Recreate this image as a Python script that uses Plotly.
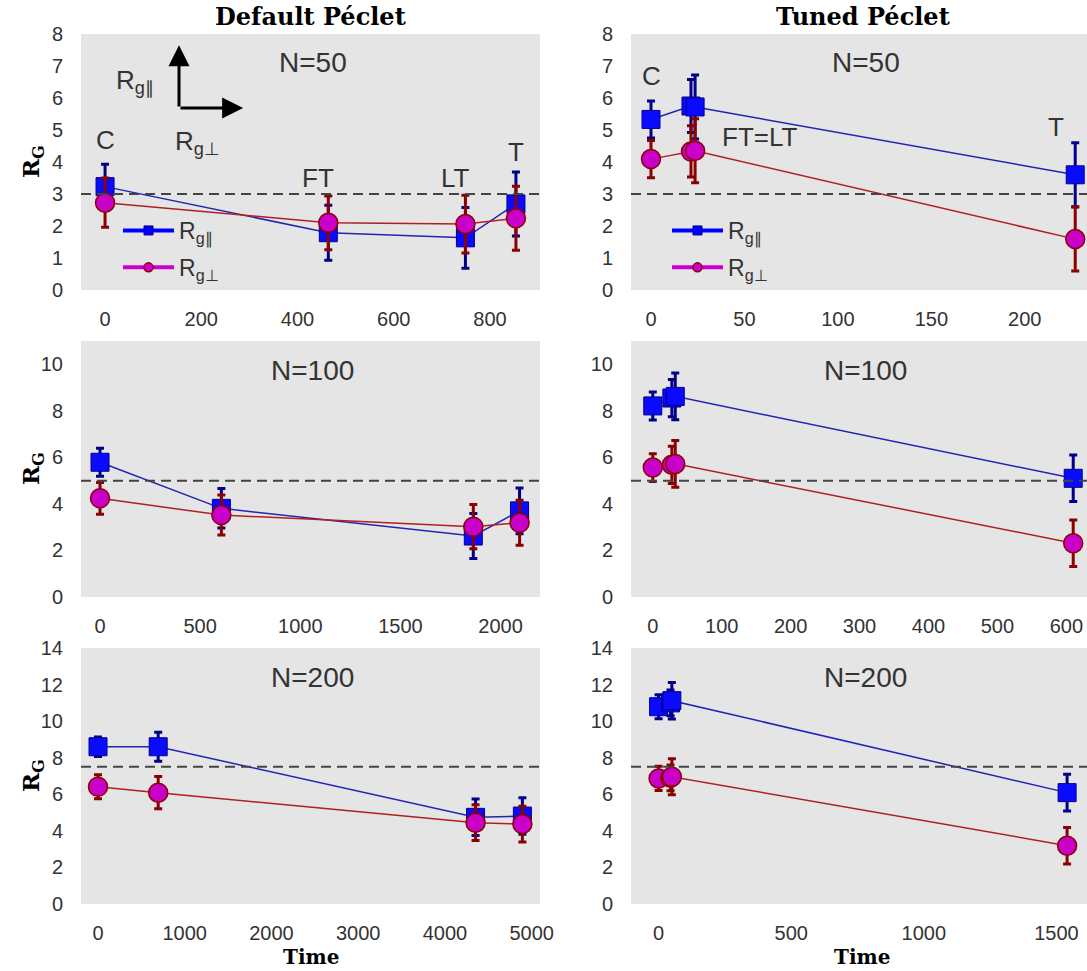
import plotly.graph_objects as go

# ---------------- data ----------------
# Default Péclet
t_def50 = [0, 464, 749, 854]
par_def50 = [3.23, 1.79, 1.63, 2.69]
par_def50_err = [0.70, 0.86, 0.95, 1.00]
perp_def50 = [2.73, 2.10, 2.06, 2.24]
perp_def50_err = [0.77, 0.84, 0.90, 1.00]

t_def100 = [0, 606, 1864, 2095]
par_def100 = [5.79, 3.81, 2.62, 3.70]
par_def100_err = [0.60, 0.85, 0.97, 0.98]
perp_def100 = [4.24, 3.52, 3.02, 3.19]
perp_def100_err = [0.68, 0.86, 0.95, 0.97]

t_def200 = [0, 694, 4353, 4893]
par_def200 = [8.60, 8.60, 4.74, 4.81]
par_def200_err = [0.53, 0.79, 1.00, 1.00]
perp_def200 = [6.41, 6.09, 4.45, 4.37]
perp_def200_err = [0.66, 0.88, 0.98, 0.98]

# Tuned Péclet
t_tun50 = [0, 21.4, 23.6, 227]
par_tun50 = [5.33, 5.75, 5.72, 3.60]
par_tun50_err = [0.58, 0.83, 1.00, 1.00]
perp_tun50 = [4.09, 4.33, 4.35, 1.59]
perp_tun50_err = [0.58, 0.80, 1.00, 1.00]

t_tun100 = [0, 27.7, 32.6, 610]
par_tun100 = [8.21, 8.55, 8.62, 5.10]
par_tun100_err = [0.60, 0.80, 1.00, 1.00]
perp_tun100 = [5.56, 5.68, 5.72, 2.31]
perp_tun100_err = [0.60, 0.80, 1.00, 1.00]

t_tun200 = [0, 45, 50, 1540]
par_tun200 = [10.79, 11.00, 11.12, 6.09]
par_tun200_err = [0.66, 0.70, 1.00, 1.00]
perp_tun200 = [6.87, 6.90, 6.96, 3.19]
perp_tun200_err = [0.66, 0.70, 0.98, 1.00]

chain_lengths = ["N=50", "N=100", "N=200"]
reference_rg = [3.0, 5.0, 7.5]

x_ranges = [[-50, 904], [-10.7, 233.3], [-95, 2197], [-31.6, 630], [-196, 5096], [-104, 1615]]
y_ranges = [[0, 8], [0, 8], [0, 11], [0, 11], [0, 14], [0, 14]]
x_ticks = [[0, 200, 400, 600, 800], [0, 50, 100, 150, 200],
           [0, 500, 1000, 1500, 2000], [0, 100, 200, 300, 400, 500, 600],
           [0, 1000, 2000, 3000, 4000, 5000], [0, 500, 1000, 1500]]
y_ticks = [list(range(0, 9)), list(range(0, 9)),
           [0, 2, 4, 6, 8, 10], [0, 2, 4, 6, 8, 10],
           [0, 2, 4, 6, 8, 10, 12, 14], [0, 2, 4, 6, 8, 10, 12, 14]]

panels = [
    (t_def50, par_def50, par_def50_err, perp_def50, perp_def50_err),
    (t_tun50, par_tun50, par_tun50_err, perp_tun50, perp_tun50_err),
    (t_def100, par_def100, par_def100_err, perp_def100, perp_def100_err),
    (t_tun100, par_tun100, par_tun100_err, perp_tun100, perp_tun100_err),
    (t_def200, par_def200, par_def200_err, perp_def200, perp_def200_err),
    (t_tun200, par_tun200, par_tun200_err, perp_tun200, perp_tun200_err),
]

# ---------------- layout geometry (pixels) ----------------
W, H = 1087, 971
col_px = [(81, 540), (631, 1087)]
row_px = [(34, 290), (341, 597), (648, 904)]

BLUE_LINE = "#2323b4"
BLUE_FILL = "#0a0aff"
BLUE_EDGE = "#00008b"
RED_LINE = "#b02020"
RED_FILL = "#c800c8"
RED_EDGE = "#8b0000"
TXT = "#333333"
SANS = "Liberation Sans, Arial, sans-serif"
SERIF = "DejaVu Serif, serif"

PAR_LABEL = "R<sub>g∥</sub>"
PERP_LABEL = "R<sub>g⊥</sub>"

fig = go.Figure()
layout_axes = {}


def label(text, xref, yref, x, y, size, color=TXT, family=SANS, angle=0):
    fig.add_annotation(text=text, xref=xref, yref=yref, x=x, y=y, showarrow=False,
                       xanchor="center", yanchor="middle", textangle=angle,
                       font=dict(family=family, size=size, color=color))


for i, (t, par, par_err, perp, perp_err) in enumerate(panels):
    r, c = divmod(i, 2)
    k = i + 1
    xa = "x" if k == 1 else f"x{k}"
    ya = "y" if k == 1 else f"y{k}"
    x0, x1 = col_px[c]
    top, bot = row_px[r]
    layout_axes["xaxis" if k == 1 else f"xaxis{k}"] = dict(
        domain=[x0 / W, x1 / W], anchor=ya, range=x_ranges[i], automargin=False,
        tickvals=x_ticks[i], showgrid=False, zeroline=False, showline=False,
        ticks="outside", ticklen=11, tickcolor="rgba(0,0,0,0)",
        tickfont=dict(family=SANS, size=20, color=TXT),
    )
    layout_axes["yaxis" if k == 1 else f"yaxis{k}"] = dict(
        domain=[1 - bot / H, 1 - top / H], anchor=xa, range=y_ranges[i], automargin=False,
        tickvals=y_ticks[i], showgrid=False, zeroline=False, showline=False,
        ticks="outside", ticklen=13, tickcolor="rgba(0,0,0,0)",
        tickfont=dict(family=SANS, size=20, color=TXT),
    )

    # reference level
    fig.add_shape(type="line", xref=f"{xa} domain", yref=ya, x0=0, x1=1,
                  y0=reference_rg[r], y1=reference_rg[r],
                  line=dict(color="#444444", width=2, dash="10px,6px"), layer="above")

    fig.add_trace(go.Scatter(
        x=t, y=par, xaxis=xa, yaxis=ya, mode="lines+markers", showlegend=False,
        line=dict(color=BLUE_LINE, width=1.5),
        marker=dict(symbol="square", size=18, color=BLUE_FILL, line=dict(color=BLUE_EDGE, width=1)),
        error_y=dict(type="data", array=par_err, color=BLUE_EDGE, thickness=3, width=4),
    ))
    fig.add_trace(go.Scatter(
        x=t, y=perp, xaxis=xa, yaxis=ya, mode="lines+markers", showlegend=False,
        line=dict(color=RED_LINE, width=1.5),
        marker=dict(symbol="circle", size=19, color=RED_FILL, line=dict(color=RED_EDGE, width=1.5)),
        error_y=dict(type="data", array=perp_err, color=RED_EDGE, thickness=3, width=4),
    ))

    # panel label
    label(chain_lengths[r], f"{xa} domain", f"{ya} domain",
          0.505 if c == 0 else 0.515, 1 - 29 / 256, 28)

# legends (one per top panel)
for lg, xa, ya in [("legend", "x", "y"), ("legend2", "x2", "y2")]:
    fig.add_trace(go.Scatter(
        x=[None], y=[None], xaxis=xa, yaxis=ya, mode="lines+markers", name=PAR_LABEL,
        legend=lg, legendgroup=lg + "a",
        line=dict(color="#0000ff", width=4),
        marker=dict(symbol="square", size=9, color="#0000ff", line=dict(color=BLUE_EDGE, width=1)),
    ))
    fig.add_trace(go.Scatter(
        x=[None], y=[None], xaxis=xa, yaxis=ya, mode="lines+markers", name=PERP_LABEL,
        legend=lg, legendgroup=lg + "b",
        line=dict(color="#cc00cc", width=4),
        marker=dict(symbol="circle", size=9, color="#cc00cc", line=dict(color=RED_EDGE, width=1.5)),
    ))

legend_style = dict(bgcolor="rgba(0,0,0,0)", borderwidth=0, itemsizing="trace",
                    itemwidth=51, tracegroupgap=4, xanchor="left", yanchor="top",
                    font=dict(family=SANS, size=23, color=TXT))

# event labels
event_labels = [
    ("x", "y", "C", 0, 4.69), ("x", "y", "FT", 442, 3.5), ("x", "y", "LT", 729, 3.5),
    ("x", "y", "T", 854, 4.31),
    ("x2", "y2", "C", 0.5, 6.69), ("x2", "y2", "FT=LT", 57.8, 4.78), ("x2", "y2", "T", 216.7, 5.09),
]
for xa, ya, txt, xv, yv in event_labels:
    label(txt, xa, ya, xv, yv, 26)

# direction arrows
for hx, hy in [(153.7, 7.65), (287, 5.69)]:
    fig.add_annotation(xref="x", yref="y", axref="x", ayref="y", x=hx, y=hy, ax=153.7, ay=5.69,
                       showarrow=True, arrowhead=2, arrowsize=1.4, arrowwidth=3,
                       arrowcolor="black", text="")
label(PAR_LABEL, "x", "y", 62, 6.5, 26)
label(PERP_LABEL, "x", "y", 193, 4.6, 26)

# column titles, axis titles
label("<b>Default Péclet</b>", "paper", "paper", 310.5 / W, 1 - 17 / H, 24, "black", SERIF)
label("<b>Tuned Péclet</b>", "paper", "paper", 863 / W, 1 - 17 / H, 24, "black", SERIF)
for top, bot in row_px:
    label("<b>R<sub>G</sub></b>", "paper", "paper", 32 / W, 1 - (top + bot) / 2 / H, 23,
          "black", SERIF, -90)
for xc in [310.5, 862]:
    label("<b>Time</b>", "paper", "paper", xc / W, 1 - 957 / H, 20, "black", SERIF)

# grey panel backgrounds
for c in range(2):
    for r in range(3):
        x0, x1 = col_px[c]
        top, bot = row_px[r]
        fig.add_shape(type="rect", xref="paper", yref="paper", x0=x0 / W, x1=x1 / W,
                      y0=1 - bot / H, y1=1 - top / H, fillcolor="#e5e5e5", line_width=0,
                      layer="below")

fig.update_layout(
    width=W, height=H, margin=dict(l=0, r=0, t=0, b=0, autoexpand=False),
    paper_bgcolor="white", plot_bgcolor="white",
    legend=dict(x=118 / W, y=1 - 209 / H, **legend_style),
    legend2=dict(x=667 / W, y=1 - 209 / H, **legend_style),
    **layout_axes,
)

fig.write_html("out.html")
